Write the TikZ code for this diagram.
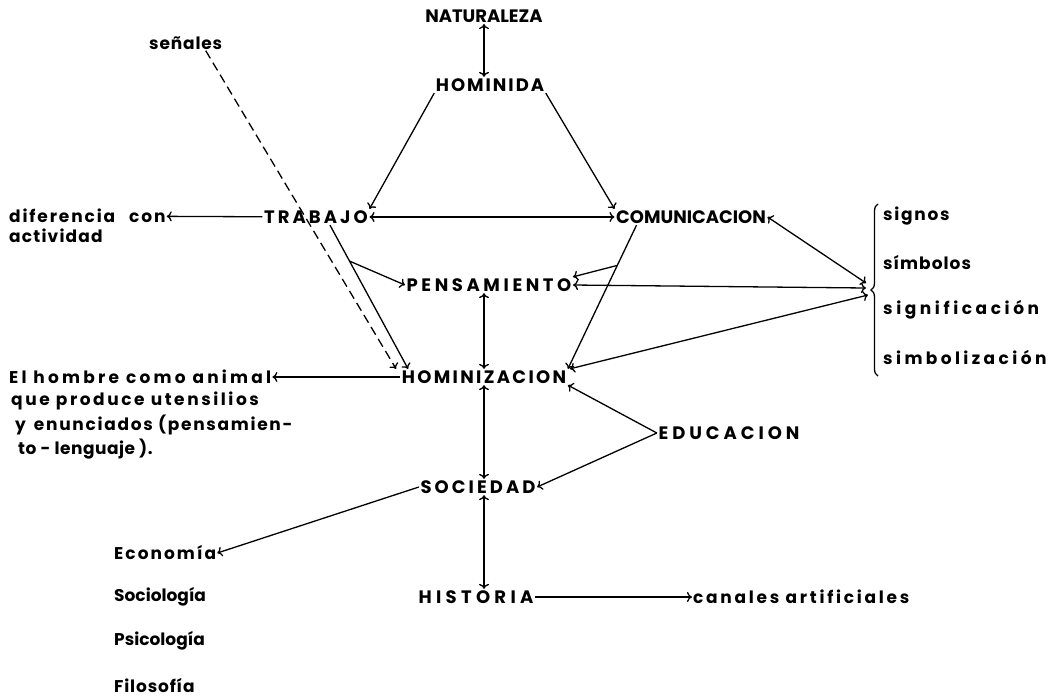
\documentclass[tikz,border=0pt]{standalone}
\usepackage{fontspec}
\setmainfont{Poppins}
\usetikzlibrary{arrows.meta,decorations.pathreplacing}

\begin{document}
\begin{tikzpicture}[x=1pt,y=-1pt,
    >={To[length=5pt,width=10pt]},
    concepto/.style={font=\fontsize{18}{20}\selectfont\bfseries\addfontfeature{LetterSpace=#1}, inner sep=1.5pt},
    concepto/.default=0,
    nota/.style={font=\fontsize{17}{20}\selectfont\bfseries\addfontfeature{LetterSpace=#1}, inner sep=1pt, anchor=west},
    nota/.default=8,
    flecha/.style={line width=1.3pt}]

    \useasboundingbox (0,0) rectangle (1053,697);

    % conceptos centrales
    \node[concepto] (naturaleza) at (484,16) {NATURALEZA};
    \node[concepto=11] (hominida) at (490,85) {HOMINIDA};
    \node[concepto=17] (trabajo) at (316,217) {TRABAJO};
    \node[concepto] (comunicacion) at (691,217) {COMUNICACION};
    \node[concepto=20] (pensamiento) at (489,285) {PENSAMIENTO};
    \node[concepto=13] (hominizacion) at (484,377) {HOMINIZACION};
    \node[concepto=22] (educacion) at (729,433) {EDUCACION};
    \node[concepto=17] (sociedad) at (478,487) {SOCIEDAD};
    \node[concepto=24] (historia) at (476,597) {HISTORIA};

    % notas
    \node[nota=5] (senales) at (148,43) {señales};
    \node[nota=11] (diferencia) at (8,216) {diferencia\hspace{14pt}con};
    \node[nota=7] (actividad) at (8,236) {actividad};
    \node[nota=19] (hombre1) at (8,377) {El hombre como animal};
    \node[nota=15] (hombre2) at (10,401) {que produce utensilios};
    \node[nota=10] (hombre3) at (14,425) {y\hspace{8pt}enunciados (pensamien-};
    \node[nota=3] (hombre4) at (17,449) {to - lenguaje ).};
    \node[nota=10] (signos) at (882,216) {signos};
    \node[nota=6] (simbolos) at (882,263) {símbolos};
    \node[nota=21] (significacion) at (882,310) {significación};
    \node[nota=20] (simbolizacion) at (882,357) {simbolización};
    \node[nota=12] (economia) at (113,553) {Economía};
    \node[nota=0] (sociologia) at (113,597) {Sociología};
    \node[nota=0] (psicologia) at (113,641) {Psicología};
    \node[nota=5] (filosofia) at (113,686) {Filosofía};
    \node[nota=16] (canales) at (692,597) {canales artificiales};

    % llave
    \draw[flecha, decorate, decoration={brace, amplitude=7pt}] (878,376) -- (878,204);
    \coordinate (llave1) at (866,283);
    \coordinate (llave2) at (866,288);
    \coordinate (llave3) at (868,295);

    % conectores
    \draw[flecha,<->] (naturaleza.south) -- (naturaleza.south |- hominida.north);
    \draw[flecha,->] (hominida.south west) -- (trabajo.north east);
    \draw[flecha,->] (hominida.south east) -- (comunicacion.north west);
    \draw[flecha,<->] (trabajo) -- (comunicacion);
    \draw[flecha,->] (trabajo) -- (diferencia);
    \draw[flecha,->] ([xshift=14pt]trabajo.south) -- coordinate[pos=.25] (rama1) ([xshift=8pt]hominizacion.north west);
    \draw[flecha,->] (rama1) -- (pensamiento.west);
    \draw[flecha,->,dash pattern=on 9pt off 5pt] ([xshift=20pt]senales.south) -- ([xshift=-4pt]hominizacion.north west);
    \draw[flecha,->] ([xshift=22pt]comunicacion.south west) -- coordinate[pos=.28] (rama2) (hominizacion.north east);
    \draw[flecha,->] (rama2) -- (pensamiento.north east);
    \draw[flecha,<->] (comunicacion.east) -- (llave1);
    \draw[flecha,<->] (pensamiento.east) -- (llave2);
    \draw[flecha,<->] ([xshift=2pt]hominizacion.north east) -- (llave3);
    \draw[flecha,<->] (pensamiento.south -| hominizacion) -- (hominizacion.north);
    \draw[flecha,->] (hominizacion) -- (hombre1);
    \draw[flecha,->] (educacion.west) -- (hominizacion.south east);
    \draw[flecha,->] (educacion.west) -- (sociedad.east);
    \draw[flecha,<->] (hominizacion.south) -- (hominizacion.south |- sociedad.north);
    \draw[flecha,->] (sociedad.west) -- (economia.east);
    \draw[flecha,<->] (sociedad.south -| hominizacion) -- (hominizacion |- historia.north);
    \draw[flecha,->] (historia) -- (canales);

\end{tikzpicture}
\end{document}
